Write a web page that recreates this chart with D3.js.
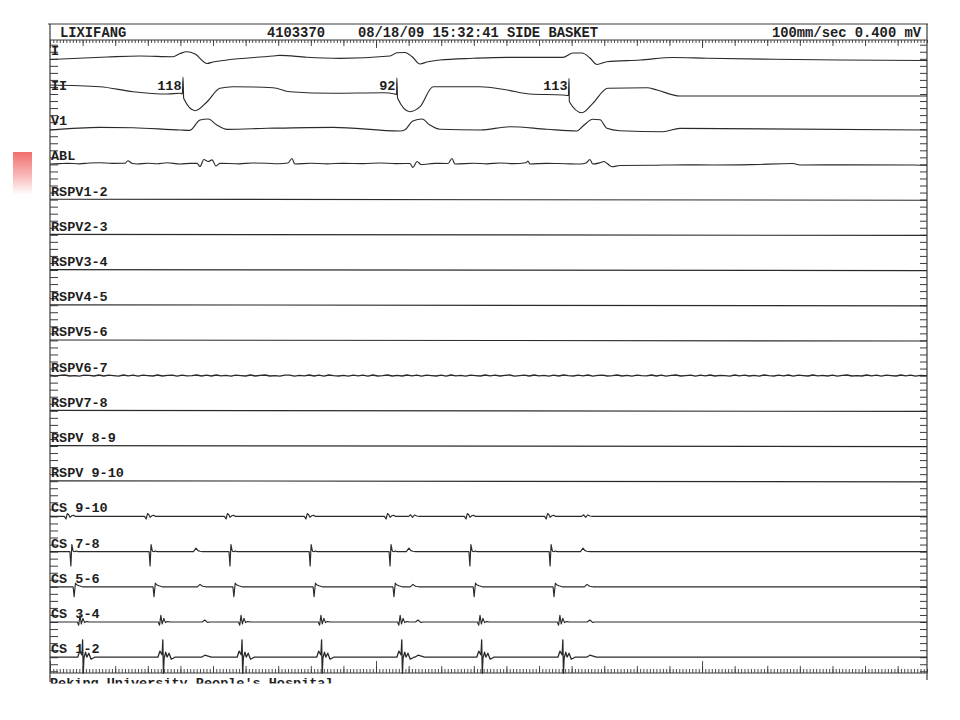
<!DOCTYPE html>
<html>
<head>
<meta charset="utf-8">
<script src="https://cdn.jsdelivr.net/npm/d3@7"></script>
<style>
  html, body { margin: 0; padding: 0; background: #ffffff; }
  svg { display: block; }
  text { font-family: "Liberation Mono", "Courier New", monospace; font-weight: bold; fill: #1e1e1e; }
</style>
</head>
<body>
<svg id="chart" width="960" height="720"></svg>
<script>
// ---------------- DATA ----------------
const channels = ["I", "II", "V1", "ABL", "RSPV1-2", "RSPV2-3", "RSPV3-4", "RSPV4-5",
  "RSPV5-6", "RSPV6-7", "RSPV7-8", "RSPV 8-9", "RSPV 9-10",
  "CS 9-10", "CS 7-8", "CS 5-6", "CS 3-4", "CS 1-2"];

const headerLeft = "LIXIFANG";
const headerId = "4103370";
const headerInfo = "08/18/09 15:32:41 SIDE BASKET";
const headerScale = "100mm/sec 0.400 mV";
const footerText = "Peking University People's Hospital";

// time in ms, amplitude in mV
const timeExtent = [0, 2690];

const leadI = [[0,-0.035],[175,0.09],[276,0.14],[377,0.105],[399,0.265],[420,0.355],[445,0.24],[482,-0.235],[500,-0.16],[543,-0.06],[684,0.14],[705,0.175],[788,0.075],[889,0.025],[1043,0.14],[1064,0.305],[1089,0.315],[1110,0.115],[1135,-0.26],[1156,-0.16],[1196,-0.06],[1297,0.025],[1402,0.075],[1573,0.075],[1604,0.29],[1632,0.29],[1656,0.04],[1678,-0.285],[1708,-0.145],[1810,-0.06],[1911,0.065],[2015,0.025],[2218,-0.025],[2423,-0.06],[2690,-0.085]];

const leadII = [[0,0.45],[153,0.365],[255,0.115],[359,0],[399,0.04],[406,0],[408,0.85],[410,-0.215],[445,-0.835],[482,-0.385],[521,0.285],[561,0.365],[684,0.315],[736,0.115],[868,0.04],[1021,0.065],[1058,0],[1063,-0.025],[1064,0.8],[1066,-0.2],[1104,-0.885],[1135,-0.635],[1175,0.365],[1319,0.365],[1402,0.2],[1472,0],[1573,-0.05],[1590,-0.075],[1592,0.785],[1593,-0.385],[1632,-0.935],[1665,-0.465],[1711,0.285],[1831,0.315],[1862,0.2],[1932,-0.1],[2690,-0.1]];

const leadV1 = [[0,-0.04],[153,0.095],[255,0.075],[399,-0.04],[429,-0.055],[460,0.46],[485,0.51],[512,0.21],[543,-0.005],[666,0.045],[868,0.095],[1073,-0.09],[1089,-0.025],[1113,0.41],[1141,0.51],[1165,0.21],[1196,-0.005],[1319,-0.04],[1411,0.125],[1524,-0.005],[1616,-0.09],[1635,0.16],[1665,0.495],[1687,0.47],[1708,0.045],[1748,-0.075],[1880,-0.125],[1932,0.045],[2690,-0.04]];

const ablTrace = [[0,0.02],[30,0.04],[52,0.055],[90,0.03],[120,0.07],[153,0.085],[190,0.05],[230,0.055],[239,0.185],[251,0.055],[267,0.02],[300,0.06],[330,0.035],[359,0.085],[399,0.02],[430,0.05],[451,0.055],[460,-0.105],[472,0.245],[485,0.145],[497,0.23],[509,-0.08],[521,0.055],[580,0.03],[620,0.07],[666,0.055],[700,0.035],[730,0.07],[742,0.295],[751,0.02],[800,0.06],[850,0.03],[899,0.055],[960,0.04],[1012,0.07],[1060,0.04],[1104,0.045],[1113,-0.145],[1126,0.145],[1138,-0.005],[1180,0.05],[1221,0.045],[1233,0.295],[1242,0.02],[1300,0.06],[1340,0.03],[1380,0.07],[1420,0.04],[1460,0.085],[1466,0.17],[1472,0.02],[1524,0.055],[1580,0.035],[1626,0.02],[1644,0.07],[1656,0.245],[1665,0.02],[1687,0.085],[1699,0.145],[1708,0.055],[1724,-0.115],[1748,-0.055],[1850,-0.04],[1950,-0.02],[2034,-0.03],[2150,-0.01],[2279,0.045],[2300,-0.03],[2450,-0.02],[2647,-0.03],[2690,-0.045]];

const rspvFlat = [[0,0.02],[2690,-0.03]];

// RSPV6-7 low-level noise, one value every 15 ms
const rspv67Step = 15;
const rspv67Noise = [0.02,-0.02,0.01,0.03,-0.02,0.00,-0.03,0.02,0.01,-0.02,0.03,-0.02,0.02,0.00,-0.03,0.03,-0.01,0.02,-0.03,0.02,
0.00,-0.02,0.03,-0.02,0.01,0.02,-0.03,0.02,-0.01,0.00,0.03,-0.02,0.02,-0.02,0.03,-0.01,0.01,-0.03,0.02,0.00,
-0.02,0.03,-0.02,0.01,0.03,-0.02,0.00,-0.03,0.02,0.02,-0.03,0.01,-0.01,0.03,-0.02,0.02,-0.03,0.03,0.00,-0.02,
0.01,-0.03,0.02,-0.01,0.02,-0.03,0.03,-0.02,0.00,0.03,-0.02,0.01,-0.02,0.03,-0.01,0.02,-0.03,0.02,0.00,-0.02,
0.02,-0.03,0.03,-0.01,0.01,-0.03,0.02,0.00,-0.02,0.03,-0.01,0.02,-0.02,0.01,0.03,-0.03,0.00,0.02,-0.02,0.03,
-0.01,0.01,-0.03,0.02,-0.02,0.03,0.00,-0.02,0.02,-0.01,0.03,-0.03,0.01,0.02,-0.02,0.00,0.03,-0.02,0.01,-0.03,
0.02,0.00,-0.01,0.03,-0.02,0.02,-0.03,0.01,0.03,-0.02,0.00,0.02,-0.03,0.02,-0.01,0.03,-0.02,0.01,0.00,-0.03,
0.03,-0.01,0.02,-0.02,0.01,-0.03,0.03,0.00,-0.02,0.02,-0.01,0.03,-0.03,0.02,0.00,-0.02,0.03,-0.01,0.01,-0.02,
0.02,-0.03,0.01,0.03,-0.02,0.00,-0.02,0.03,-0.01,0.02,-0.03,0.02,0.00,-0.02,0.03,-0.01,0.02,-0.03,0.01,0.00];

// Coronary sinus: atrial activation times (ms) and far-field ventricular times (ms)
const cs910A = [52, 298, 543, 788, 1034, 1279, 1525];
const cs910V = [1110, 1641];
const cs78A  = [64, 307, 552, 798, 1043, 1288, 1534];
const cs78V  = [448, 1101, 1635];
const cs56A  = [74, 319, 564, 810, 1055, 1301, 1546];
const cs56V  = [460, 1113, 1647];
const cs34A  = [92, 340, 586, 831, 1074, 1319, 1564];
const cs34V  = [475, 1129, 1656];
const cs12A  = [101, 347, 590, 834, 1080, 1325, 1574];
const cs12V  = [475, 1129, 1656];

// electrogram shapes: [ms relative to activation, mV]
const cs910ATpl = [[-8,0],[-3,-0.13],[1,0.14],[5,0.1],[9,-0.04],[15,0.03],[20,0.06],[26,0]];
const cs910VTpl = [[-10,0],[-4,0.08],[2,-0.05],[8,0.07],[15,0.02],[24,0]];
const cs78ATpl  = [[-3,0],[0,-0.72],[3,0.35],[7,0.02],[12,0],[17,0.03],[20,0]];
const cs78VTpl  = [[-8,0],[0,0.17],[6,0.05],[12,0.02],[20,0]];
const cs56ATpl  = [[-3,0],[0,-0.5],[4,0.18],[8,0.1],[15,0.05],[25,0]];
const cs56VTpl  = [[-8,0],[0,0.12],[8,0.03],[18,0]];
const cs34ATpl  = [[-8,0],[-4,-0.16],[0,0.33],[4,-0.1],[9,0.18],[14,-0.03],[20,0.02],[30,0]];
const cs34VTpl  = [[-8,0],[0,0.1],[8,-0.02],[16,0]];
const cs12ATpl  = [[-16,0],[-10,0.3],[-3,0.12],[-1,0.87],[1,-0.8],[3,-0.05],[8,0.25],[12,0.0],[18,0.2],[25,-0.1],[36,0]];
const cs12VTpl  = [[-10,0],[0,0.1],[10,0.05],[20,0]];

// heart-rate annotations on lead II
const hrTimes  = [408, 1064, 1592];
const hrLabels = ["118", "92", "113"];

// ruler tick spacing (ms)
const rulerMinor = 10, rulerMedium = 100, rulerMajor = 1000;

// ---------------- DRAWING ----------------
const svg = d3.select("#chart");
const L = 50, R = 927, TOP = 24, RULER_T = 40, RULER_B = 673;

const x = d3.scaleLinear().domain(timeExtent).range([L, R]);
const chY = d3.scalePoint().domain(channels).range([58.8, 657.2]);
const amp = d3.scaleLinear().domain([0, 1]).range([0, -20]);
const chIndex = d3.scaleLinear().domain([0, channels.length - 1]).range([58.8, 657.2]);

// decorative pink square on the slide
const defs = svg.append("defs");
const grad = defs.append("linearGradient").attr("id", "pink").attr("x1", 0).attr("y1", 0).attr("x2", 0).attr("y2", 1);
grad.append("stop").attr("offset", "0%").attr("stop-color", "#f26e6e");
grad.append("stop").attr("offset", "55%").attr("stop-color", "#f9b8b8");
grad.append("stop").attr("offset", "100%").attr("stop-color", "#ffffff");
svg.append("rect").attr("x", 13).attr("y", 152).attr("width", 19).attr("height", 43).attr("fill", "url(#pink)");

defs.append("clipPath").attr("id", "plotClip").append("rect")
  .attr("x", L).attr("y", RULER_T).attr("width", R - L).attr("height", RULER_B - RULER_T + 1);
defs.append("clipPath").attr("id", "footClip").append("rect")
  .attr("x", 0).attr("y", 670).attr("width", 960).attr("height", 13.5);

// frame
const frame = svg.append("g").attr("stroke", "#3a3a3a").attr("stroke-width", 1.2).attr("fill", "none");
frame.append("line").attr("x1", L - 2).attr("x2", R + 1).attr("y1", TOP).attr("y2", TOP);
frame.append("line").attr("x1", L).attr("x2", L).attr("y1", TOP).attr("y2", 682);
frame.append("line").attr("x1", R).attr("x2", R).attr("y1", TOP).attr("y2", 680);
frame.append("line").attr("x1", L).attr("x2", R).attr("y1", RULER_T).attr("y2", RULER_T);
frame.append("line").attr("x1", L).attr("x2", R).attr("y1", RULER_B).attr("y2", RULER_B);

// header text
const hdr = svg.append("g").style("font-size", "13.8px");
hdr.append("text").attr("x", 60).attr("y", 36.5).text(headerLeft);
hdr.append("text").attr("x", 267).attr("y", 36.5).text(headerId);
hdr.append("text").attr("x", 358).attr("y", 36.5).text(headerInfo);
hdr.append("text").attr("x", 921).attr("y", 36.5).attr("text-anchor", "end").text(headerScale);

// time rulers
function ruler(y, axisFn, step, size) {
  const g = svg.append("g").attr("transform", `translate(0,${y})`)
    .call(axisFn(x).tickValues(d3.range(timeExtent[0], timeExtent[1] + 1, step)).tickSize(size).tickFormat(""));
  g.select(".domain").remove();
  g.selectAll("line").attr("stroke", "#3a3a3a").attr("stroke-width", 0.9);
}
ruler(RULER_T, d3.axisBottom, rulerMinor, 3);
ruler(RULER_T, d3.axisBottom, rulerMedium, 6);
ruler(RULER_T, d3.axisBottom, rulerMajor, 8);
ruler(RULER_B, d3.axisTop, rulerMinor, 4);
ruler(RULER_B, d3.axisTop, rulerMedium, 7);
ruler(RULER_B, d3.axisTop, rulerMajor, 12);

// amplitude ticks on both sides (5 per channel spacing)
const sideVals = d3.range(-2, 88).map(k => k / 5);
function side(xPos, axisFn, size) {
  const g = svg.append("g").attr("transform", `translate(${xPos},0)`)
    .call(axisFn(chIndex).tickValues(sideVals).tickSize(size).tickFormat(""));
  g.select(".domain").remove();
  g.selectAll("line").attr("stroke", "#3a3a3a").attr("stroke-width", 1);
}
side(L, d3.axisRight, 8);
side(R, d3.axisLeft, 7);

// build CS traces from activation times and shapes
function buildCS(aTimes, aTpl, vTimes, vTpl) {
  const pts = [[timeExtent[0], 0], [timeExtent[1], 0]];
  aTimes.forEach(t => aTpl.forEach(p => pts.push([t + p[0], p[1]])));
  vTimes.forEach(t => vTpl.forEach(p => pts.push([t + p[0], p[1]])));
  return pts.sort((a, b) => a[0] - b[0]);
}

const rspv67 = rspv67Noise.map((v, i) => [i * rspv67Step, v]).concat([[timeExtent[1], 0.0]]);

const traces = [
  { ch: "I", data: leadI, curve: d3.curveMonotoneX },
  { ch: "II", data: leadII, curve: d3.curveMonotoneX },
  { ch: "V1", data: leadV1, curve: d3.curveMonotoneX },
  { ch: "ABL", data: ablTrace, curve: d3.curveMonotoneX },
  { ch: "RSPV1-2", data: rspvFlat, curve: d3.curveLinear },
  { ch: "RSPV2-3", data: rspvFlat, curve: d3.curveLinear },
  { ch: "RSPV3-4", data: rspvFlat, curve: d3.curveLinear },
  { ch: "RSPV4-5", data: rspvFlat, curve: d3.curveLinear },
  { ch: "RSPV5-6", data: rspvFlat, curve: d3.curveLinear },
  { ch: "RSPV6-7", data: rspv67, curve: d3.curveLinear, w: 1.3 },
  { ch: "RSPV7-8", data: rspvFlat, curve: d3.curveLinear },
  { ch: "RSPV 8-9", data: rspvFlat, curve: d3.curveLinear },
  { ch: "RSPV 9-10", data: rspvFlat, curve: d3.curveLinear },
  { ch: "CS 9-10", data: buildCS(cs910A, cs910ATpl, cs910V, cs910VTpl), curve: d3.curveLinear },
  { ch: "CS 7-8", data: buildCS(cs78A, cs78ATpl, cs78V, cs78VTpl), curve: d3.curveLinear },
  { ch: "CS 5-6", data: buildCS(cs56A, cs56ATpl, cs56V, cs56VTpl), curve: d3.curveLinear },
  { ch: "CS 3-4", data: buildCS(cs34A, cs34ATpl, cs34V, cs34VTpl), curve: d3.curveLinear },
  { ch: "CS 1-2", data: buildCS(cs12A, cs12ATpl, cs12V, cs12VTpl), curve: d3.curveLinear, w: 1.3 }
];

// channel labels
const lab = svg.append("g").style("font-size", "13.5px");
lab.selectAll("text").data(channels).join("text")
  .attr("x", L + 1).attr("y", d => chY(d) - 4).text(d => d);

// traces
const tg = svg.append("g").attr("clip-path", "url(#plotClip)");
traces.forEach(tr => {
  const base = chY(tr.ch);
  const line = d3.line().x(d => x(d[0])).y(d => base + amp(d[1])).curve(tr.curve);
  tg.append("path").datum(tr.data).attr("d", line)
    .attr("fill", "none").attr("stroke", "#2a2a2a")
    .attr("stroke-width", tr.w || 1.15).attr("stroke-linejoin", "round");
});

// heart rate annotations
const hr = svg.append("g").style("font-size", "13.5px");
hr.selectAll("text").data(hrTimes).join("text")
  .attr("x", d => x(d) - 1.5).attr("y", chY("II") - 4).attr("text-anchor", "end")
  .text((d, i) => hrLabels[i]);

// footer (cut off at the bottom of the scan)
svg.append("g").attr("clip-path", "url(#footClip)").append("text")
  .attr("x", L).attr("y", 687).style("font-size", "13.5px").text(footerText);
</script>
</body>
</html>
